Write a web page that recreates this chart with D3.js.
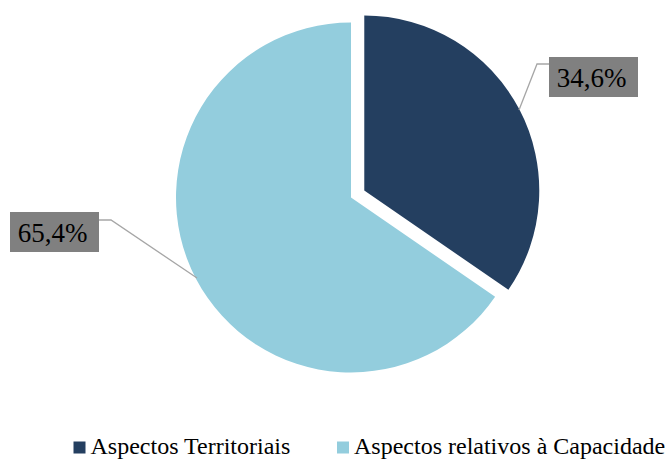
<!DOCTYPE html>
<html>
<head>
<meta charset="utf-8">
<script src="https://cdn.jsdelivr.net/npm/d3@7"></script>
<style>
  html, body { margin: 0; padding: 0; background: #fff; }
  svg { display: block; }
</style>
</head>
<body>
<svg id="chart" width="665" height="459"></svg>
<script>
// Share of aspects (percent)
const categories = ["Aspectos Territoriais", "Aspectos relativos à Capacidade"];
const values = [34.6, 65.4];
const labels = ["34,6%", "65,4%"];
const colors = ["#243F60", "#93CDDD"];

const FONT = "'Liberation Serif', 'Times New Roman', Times, serif";

const svg = d3.select("#chart");
const cx = 351, cy = 197.5, radius = 175;
const explode = 15; // first slice is pulled out

const pie = d3.pie().sort(null).value(d => d)(values);
const arc = d3.arc().innerRadius(0).outerRadius(radius);

const g = svg.append("g").attr("transform", `translate(${cx},${cy})`);

g.selectAll("path.slice")
  .data(pie)
  .join("path")
  .attr("class", "slice")
  .attr("fill", (d, i) => colors[i])
  .attr("transform", (d, i) => {
    if (i !== 0) return null;
    const a = (d.startAngle + d.endAngle) / 2;
    return `translate(${Math.sin(a) * explode},${-Math.cos(a) * explode})`;
  })
  .attr("d", arc);

// Data labels with leader lines
const boxes = [
  { x: 549, y: 57, w: 89, h: 40, line: [[549, 64], [537, 64], [519, 110]] },
  { x: 10, y: 212, w: 89, h: 40, line: [[99, 220], [111, 220], [197, 278]] }
];

boxes.forEach((b, i) => {
  svg.append("polyline")
    .attr("points", b.line.map(p => p.join(",")).join(" "))
    .attr("fill", "none")
    .attr("stroke", "#A6A6A6")
    .attr("stroke-width", 1.3);
  svg.append("rect")
    .attr("x", b.x).attr("y", b.y)
    .attr("width", b.w).attr("height", b.h)
    .attr("fill", "#808080");
  svg.append("text")
    .attr("x", b.x + b.w / 2 - 2)
    .attr("y", b.y + 30)
    .attr("text-anchor", "middle")
    .attr("font-family", FONT)
    .attr("font-size", 27)
    .attr("fill", "#000")
    .text(labels[i]);
});

// Legend
const legendItems = [
  { x: 73.5 },
  { x: 337 }
];
legendItems.forEach((l, i) => {
  svg.append("rect")
    .attr("x", l.x).attr("y", 441.5)
    .attr("width", 12).attr("height", 12)
    .attr("fill", colors[i]);
  svg.append("text")
    .attr("x", l.x + 17)
    .attr("y", 454)
    .attr("font-family", FONT)
    .attr("font-size", 24)
    .attr("fill", "#000")
    .text(categories[i]);
});
</script>
</body>
</html>
